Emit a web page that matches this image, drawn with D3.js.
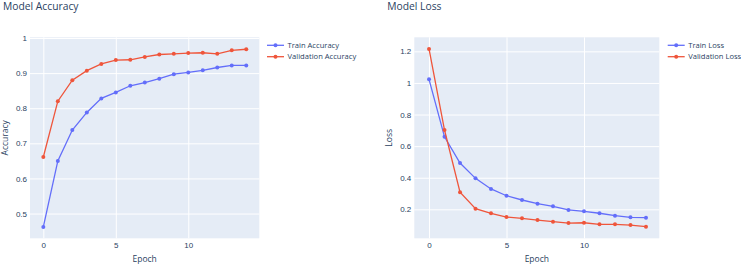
<!DOCTYPE html>
<html>
<head>
<meta charset="utf-8">
<script src="https://cdn.jsdelivr.net/npm/d3@7"></script>
<style>
  body { margin: 0; background: #fff; }
  svg { font-family: "Open Sans", sans-serif; }
</style>
</head>
<body>
<div class="chart"></div>
<script>
var width = 741;
var height = 264;

var epochs = d3.range(0, 15);
var trainAcc = [0.462, 0.650, 0.738, 0.788, 0.828, 0.845, 0.864, 0.873, 0.884, 0.897, 0.902, 0.908, 0.916, 0.922, 0.922];
var valAcc = [0.661, 0.820, 0.880, 0.907, 0.926, 0.937, 0.938, 0.946, 0.953, 0.955, 0.957, 0.958, 0.955, 0.965, 0.968];
var trainLoss = [1.023, 0.659, 0.493, 0.396, 0.329, 0.286, 0.259, 0.236, 0.219, 0.196, 0.187, 0.175, 0.160, 0.149, 0.147];
var valLoss = [1.215, 0.702, 0.308, 0.204, 0.175, 0.151, 0.143, 0.132, 0.122, 0.113, 0.115, 0.105, 0.105, 0.100, 0.090];

var xTicks = [0, 5, 10];
var accTicks = [0.5, 0.6, 0.7, 0.8, 0.9, 1];
var lossTicks = [0.2, 0.4, 0.6, 0.8, 1, 1.2];

var blue = '#636efa';
var red = '#ef553b';
var textColor = '#2a3f5f';

var svg = d3.select('div.chart').append('svg')
    .attr('width', width)
    .attr('height', height)

function drawPanel(opts){
    var g = svg.append('g')
    var x = d3.scaleLinear().domain(opts.xDomain).range([opts.left, opts.right])
    var y = d3.scaleLinear().domain(opts.yDomain).range([opts.bottom, opts.top])

    g.append('rect')
        .attr('x', opts.left)
        .attr('y', opts.top)
        .attr('width', opts.right - opts.left)
        .attr('height', opts.bottom - opts.top)
        .attr('fill', '#e5ecf6')

    // grid
    var xAxis = d3.axisBottom(x).tickValues(xTicks).tickSize(-(opts.bottom - opts.top)).tickPadding(4).tickFormat(d3.format('d'))
    var yAxis = d3.axisLeft(y).tickValues(opts.yTicks).tickSize(-(opts.right - opts.left)).tickPadding(3).tickFormat(d3.format('~g'))

    var gx = g.append('g')
        .attr('transform', 'translate(0,' + opts.bottom + ')')
        .call(xAxis)
    var gy = g.append('g')
        .attr('transform', 'translate(' + opts.left + ',0)')
        .call(yAxis)
    ;[gx, gy].forEach(function(a){
        a.select('.domain').remove()
        a.selectAll('line').attr('stroke', '#fff').attr('stroke-width', 1)
        a.selectAll('text').attr('fill', textColor).style('font-size', '8px')
    })

    var line = d3.line()
        .x(function(d, i){ return x(epochs[i]) })
        .y(function(d){ return y(d) })

    opts.series.forEach(function(s){
        g.append('path')
            .datum(s.values)
            .attr('d', line)
            .attr('fill', 'none')
            .attr('stroke', s.color)
            .attr('stroke-width', 1.3)
        g.selectAll(null)
            .data(s.values)
            .enter()
            .append('circle')
            .attr('cx', function(d, i){ return x(epochs[i]) })
            .attr('cy', function(d){ return y(d) })
            .attr('r', 2)
            .attr('fill', s.color)
    })

    // titles
    g.append('text')
        .attr('x', opts.titleX)
        .attr('y', 9.5)
        .attr('fill', textColor)
        .style('font-size', '10.3px')
        .text(opts.title)
    g.append('text')
        .attr('x', (opts.left + opts.right) / 2)
        .attr('y', 262)
        .attr('text-anchor', 'middle')
        .attr('fill', textColor)
        .style('font-size', '8.5px')
        .text('Epoch')
    g.append('text')
        .attr('transform', 'translate(' + opts.yTitleX + ',' + ((opts.top + opts.bottom) / 2) + ') rotate(-90)')
        .attr('text-anchor', 'middle')
        .attr('fill', textColor)
        .style('font-size', '8.5px')
        .text(opts.yTitle)

    // legend
    var lg = g.append('g').attr('transform', 'translate(' + opts.legendX + ',0)')
    opts.series.forEach(function(s, i){
        var ly = 45.3 + i * 11.4
        lg.append('line')
            .attr('x1', 0).attr('x2', 17)
            .attr('y1', ly).attr('y2', ly)
            .attr('stroke', s.color)
            .attr('stroke-width', 1.3)
        lg.append('circle')
            .attr('cx', 8.5).attr('cy', ly).attr('r', 2)
            .attr('fill', s.color)
        lg.append('text')
            .attr('x', 20.5)
            .attr('y', ly)
            .attr('dy', '0.35em')
            .attr('fill', textColor)
            .style('font-size', '7.6px')
            .text(s.name)
    })
}

drawPanel({
    left: 30, right: 259.3, top: 37.3, bottom: 238.3,
    xDomain: [-0.92, 14.9], yDomain: [0.4295, 1.002],
    yTicks: accTicks,
    title: 'Model Accuracy', titleX: 3,
    yTitle: 'Accuracy', yTitleX: 7.5,
    legendX: 267,
    series: [
        {name: 'Train Accuracy', values: trainAcc, color: blue},
        {name: 'Validation Accuracy', values: valAcc, color: red}
    ]
})

drawPanel({
    left: 414.3, right: 659.3, top: 37.3, bottom: 238.3,
    xDomain: [-0.95, 14.86], yDomain: [0.0165, 1.289],
    yTicks: lossTicks,
    title: 'Model Loss', titleX: 387.3,
    yTitle: 'Loss', yTitleX: 392,
    legendX: 667.7,
    series: [
        {name: 'Train Loss', values: trainLoss, color: blue},
        {name: 'Validation Loss', values: valLoss, color: red}
    ]
})
</script>
</body>
</html>
